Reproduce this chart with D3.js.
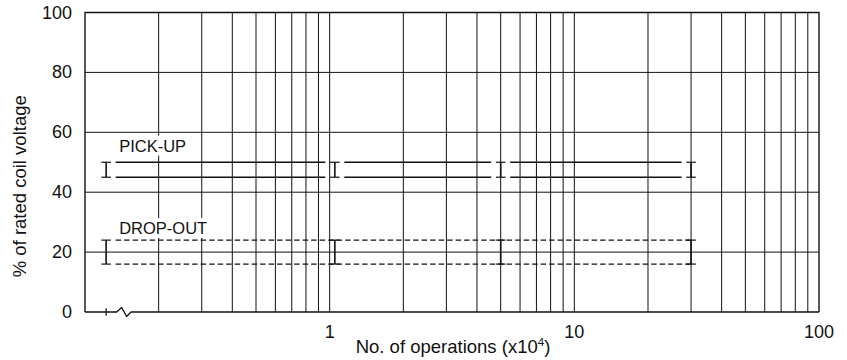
<!DOCTYPE html>
<html>
<head>
<meta charset="utf-8">
<script src="https://cdn.jsdelivr.net/npm/d3@7"></script>
<style>
  html, body { margin: 0; padding: 0; background: #fff; }
  svg { display: block; font-family: "Liberation Sans", Arial, sans-serif; }
</style>
</head>
<body>
<svg id="chart" width="847" height="360"></svg>
<script>
// Operating-voltage endurance: pick-up and drop-out bands vs. number of operations
const yTickValues = [0, 20, 40, 60, 80, 100];
const xTickValues = [1, 10, 100];
const xTickLabels = ["1", "10", "100"];

// measurement points, number of operations (x10^4); 0 = initial (drawn past the axis break)
const operations = [0, 1.05, 5, 30];
const pickUpHigh = [50, 50, 50, 50];
const pickUpLow = [45, 45, 45, 45];
const dropOutHigh = [24, 24, 24, 24];
const dropOutLow = [16, 16, 16, 16];

const bandLabels = ["PICK-UP", "DROP-OUT"];
const bandLabelLevels = [55, 27.5];

const W = 847, H = 360;
const margin = { top: 12.5, right: 28, bottom: 48, left: 85 };
const ink = "#111";

const svg = d3.select("#chart");

const x = d3.scaleLog().domain([0.1, 100]).range([margin.left, W - margin.right]);
const y = d3.scaleLinear().domain([0, 100]).range([H - margin.bottom, margin.top]);

// the initial point sits just right of the origin, before the axis break
const initialPos = 0.122;
const xPos = v => (v === 0 ? x(initialPos) : x(v));

const x0 = x.range()[0], x1 = x.range()[1];
const yBottom = y(0), yTop = y(100);

// vertical log grid (minor lines inside every decade)
const gridX = x.ticks().filter(v => v > 0.1 && v < 100);
svg.append("g")
  .selectAll("line")
  .data(gridX)
  .join("line")
  .attr("x1", d => x(d)).attr("x2", d => x(d))
  .attr("y1", yTop).attr("y2", yBottom)
  .attr("stroke", ink).attr("stroke-width", 1);

// horizontal grid
svg.append("g")
  .selectAll("line")
  .data(yTickValues.filter(v => v > 0 && v < 100))
  .join("line")
  .attr("x1", x0).attr("x2", x1)
  .attr("y1", d => y(d)).attr("y2", d => y(d))
  .attr("stroke", ink).attr("stroke-width", 1);

// frame: left, top, right
svg.append("path")
  .attr("d", `M${x0},${yBottom}V${yTop}H${x1}V${yBottom}`)
  .attr("fill", "none").attr("stroke", ink).attr("stroke-width", 1.4);

// bottom axis with break symbol
const bx = xPos(0);
const zz = bx + 10.5;
svg.append("path")
  .attr("d", `M${x0},${yBottom}H${zz}l5,-4.5l5,9l4.5,-4.5H${x1}`)
  .attr("fill", "none").attr("stroke", ink).attr("stroke-width", 1.3);
svg.append("line")
  .attr("x1", bx).attr("x2", bx)
  .attr("y1", yBottom - 3.7).attr("y2", yBottom + 3.7)
  .attr("stroke", ink).attr("stroke-width", 1.2);

// band labels on white boxes
const labelG = svg.append("g");
bandLabels.forEach((t, i) => {
  const txt = labelG.append("text")
    .attr("x", xPos(0) + 13)
    .attr("y", y(bandLabelLevels[i]))
    .attr("font-size", 16.5)
    .attr("fill", ink)
    .attr("dominant-baseline", "middle")
    .text(t);
  const b = txt.node().getBBox();
  labelG.insert("rect", "text")
    .attr("x", b.x - 2).attr("y", b.y - 1)
    .attr("width", b.width + 4).attr("height", b.height + 2)
    .attr("fill", "#fff");
});
labelG.raise();

const gap = 9.5, cap = 4.8;
const pts = operations.map((o, i) => ({
  x: xPos(o), puHi: pickUpHigh[i], puLo: pickUpLow[i], doHi: dropOutHigh[i], doLo: dropOutLow[i]
}));

// pick-up: solid segments between measurement points
const puG = svg.append("g").attr("stroke", ink).attr("stroke-width", 1.3);
for (let i = 0; i < pts.length - 1; i++) {
  ["puHi", "puLo"].forEach(k => {
    puG.append("line")
      .attr("x1", pts[i].x + gap).attr("x2", pts[i + 1].x - gap)
      .attr("y1", y(pts[i][k])).attr("y2", y(pts[i + 1][k]));
  });
}

// drop-out: dashed lines through all points
const doG = svg.append("g").attr("stroke", ink).attr("stroke-width", 1.3)
  .attr("stroke-dasharray", "5.5,3").attr("fill", "none");
["doHi", "doLo"].forEach(k => {
  doG.append("path")
    .attr("d", d3.line().x(d => d.x).y(d => y(d[k]))(
      [{ ...pts[0], x: pts[0].x + gap }, ...pts.slice(1)]));
});

// range bars (I-beams) at every point
const barG = svg.append("g").attr("stroke", ink);
pts.forEach(p => {
  [["puHi", "puLo"], ["doHi", "doLo"]].forEach(([hi, lo]) => {
    barG.append("line").attr("x1", p.x).attr("x2", p.x)
      .attr("y1", y(p[hi])).attr("y2", y(p[lo])).attr("stroke-width", 1.6);
    [hi, lo].forEach(k => {
      barG.append("line").attr("x1", p.x - cap).attr("x2", p.x + cap)
        .attr("y1", y(p[k])).attr("y2", y(p[k])).attr("stroke-width", 1.2);
    });
  });
});

// y tick labels
svg.append("g")
  .selectAll("text")
  .data(yTickValues)
  .join("text")
  .attr("x", x0 - 13)
  .attr("y", d => y(d))
  .attr("text-anchor", "end")
  .attr("dominant-baseline", "central")
  .attr("font-size", 18)
  .attr("fill", ink)
  .text(d => d);

// x tick labels
svg.append("g")
  .selectAll("text")
  .data(xTickValues)
  .join("text")
  .attr("x", d => x(d))
  .attr("y", yBottom + 25.5)
  .attr("text-anchor", "middle")
  .attr("font-size", 18)
  .attr("fill", ink)
  .text((d, i) => xTickLabels[i]);

// axis titles
const xt = svg.append("text")
  .attr("x", 453).attr("y", H - 7)
  .attr("text-anchor", "middle")
  .attr("font-size", 18.5)
  .attr("fill", ink);
xt.append("tspan").text("No. of operations (x10");
xt.append("tspan").attr("font-size", 11.5).attr("dy", -7).text("4");
xt.append("tspan").attr("dy", 7).text(")");

svg.append("text")
  .attr("transform", `translate(26,${(yTop + yBottom) / 2 + 24}) rotate(-90)`)
  .attr("text-anchor", "middle")
  .attr("font-size", 18.5)
  .attr("fill", ink)
  .text("% of rated coil voltage");
</script>
</body>
</html>
